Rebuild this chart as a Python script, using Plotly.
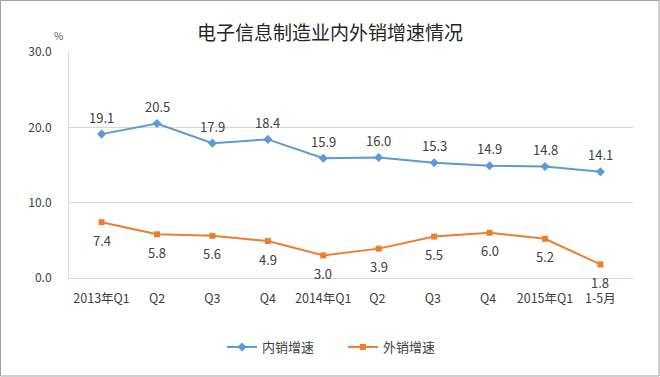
import plotly.graph_objects as go

categories = ["2013年Q1", "Q2", "Q3", "Q4", "2014年Q1", "Q2 ", "Q3 ", "Q4 ", "2015年Q1", "1-5月"]
domestic = [19.1, 20.5, 17.9, 18.4, 15.9, 16.0, 15.3, 14.9, 14.8, 14.1]
export = [7.4, 5.8, 5.6, 4.9, 3.0, 3.9, 5.5, 6.0, 5.2, 1.8]
y_ticks = [0, 10, 20, 30]

font_cjk = "Noto Sans CJK SC, Liberation Sans, sans-serif"
text_color = "#404040"

fig = go.Figure()
fig.add_trace(go.Scatter(
    x=categories, y=domestic, name="内销增速", mode="lines+markers",
    line=dict(color="#5B9BD5", width=2),
    marker=dict(symbol="diamond", size=7, color="#5B9BD5"),
))
fig.add_trace(go.Scatter(
    x=categories, y=export, name="外销增速", mode="lines+markers",
    line=dict(color="#ED7D31", width=2),
    marker=dict(symbol="square", size=6, color="#ED7D31"),
))

annotations = []
for c, v in zip(categories, domestic):
    annotations.append(dict(x=c, y=v, xref="x", yref="y", text=f"{v:.1f}", showarrow=False,
                            yshift=17, font=dict(size=13, color=text_color, family=font_cjk)))
for c, v in zip(categories, export):
    annotations.append(dict(x=c, y=v, xref="x", yref="y", text=f"{v:.1f}", showarrow=False,
                            yshift=-18, font=dict(size=13, color=text_color, family=font_cjk)))
annotations.append(dict(text="%", xref="paper", yref="paper", x=(58-69)/564, y=1+17/226,
                        xanchor="center", yanchor="middle",
                        showarrow=False, font=dict(size=10, color="#595959")))

fig.update_layout(
    width=660, height=377,
    margin=dict(l=69, r=27, t=52, b=99),
    paper_bgcolor="white", plot_bgcolor="white",
    font=dict(family=font_cjk, color=text_color, size=12),
    title=dict(text="电子信息制造业内外销增速情况", x=0.5, xref="container", xanchor="center",
               y=1 - 33/377, yanchor="middle",
               font=dict(size=19, color="#262626", family=font_cjk)),
    showlegend=True,
    legend=dict(orientation="h", x=(222-69)/564, xanchor="left", xref="paper",
                y=-(347-278)/226, yanchor="middle",
                font=dict(size=13, color=text_color), entrywidth=76, entrywidthmode="pixels",
                traceorder="normal"),
    xaxis=dict(type="category", showgrid=False, showline=True, linecolor="#D9D9D9",
               tickfont=dict(size=12.5, color="#404040"), ticks="", ticklabelstandoff=9),
    yaxis=dict(range=[0, 30], tickvals=y_ticks, tickformat=".1f", showgrid=True,
               gridcolor="#D9D9D9", gridwidth=1, showline=True, linecolor="#D9D9D9",
               zeroline=False, tickfont=dict(size=12, color="#404040"), ticks="",
               ticklabelstandoff=14),
    shapes=[dict(type="rect", xref="paper", yref="paper", x0=-68.5/564, x1=1+26/564,
                 y0=-98/226, y1=1+51.5/226, line=dict(color="#A0A0A0", width=1))],
    annotations=annotations,
)

fig.write_html("out.html", config={"displayModeBar": False},
               post_script="document.body.style.margin='0';document.body.style.overflow='hidden';")
